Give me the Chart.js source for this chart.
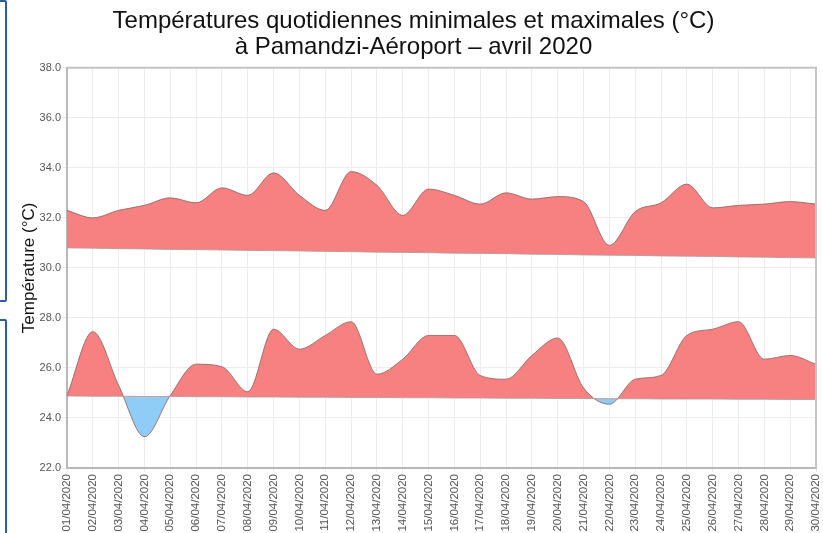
<!DOCTYPE html>
<html lang="fr">
<head>
<meta charset="utf-8">
<script src="https://cdn.jsdelivr.net/npm/chart.js@4/dist/chart.umd.min.js"></script>
<style>
    html, body { margin: 0; padding: 0; background: #fff; }
    #wrap { position: relative; width: 823px; height: 533px; overflow: hidden; }
    #chart { position: absolute; left: 0; top: 0; }
    .cadre { position: absolute; border: 2px solid #2d5e9e; border-radius: 2px; }
</style>
</head>
<body>
<div id="wrap">
    <div class="cadre" style="left:-12px; top:0px; width:15px; height:298px;"></div>
    <div class="cadre" style="left:-12px; top:319px; width:15px; height:240px;"></div>
    <canvas id="chart" width="823" height="533"></canvas>
</div>
<script>
// ========== Données ==========

const jours = [
    '01/04/2020', '02/04/2020', '03/04/2020', '04/04/2020', '05/04/2020',
    '06/04/2020', '07/04/2020', '08/04/2020', '09/04/2020', '10/04/2020',
    '11/04/2020', '12/04/2020', '13/04/2020', '14/04/2020', '15/04/2020',
    '16/04/2020', '17/04/2020', '18/04/2020', '19/04/2020', '20/04/2020',
    '21/04/2020', '22/04/2020', '23/04/2020', '24/04/2020', '25/04/2020',
    '26/04/2020', '27/04/2020', '28/04/2020', '29/04/2020', '30/04/2020'
];

const tempMax = [
    32.3, 32.0, 32.3, 32.5, 32.8, 32.6, 33.2, 32.9, 33.8, 32.9,
    32.3, 33.85, 33.3, 32.1, 33.15, 32.9, 32.55, 33.0, 32.75, 32.85,
    32.65, 30.9, 32.25, 32.6, 33.35, 32.4, 32.5, 32.55, 32.65, 32.55
];

const normaleMax = [
    30.80, 30.79, 30.77, 30.76, 30.74, 30.73, 30.72, 30.70, 30.69, 30.68,
    30.66, 30.65, 30.63, 30.62, 30.61, 30.59, 30.58, 30.57, 30.55, 30.54,
    30.52, 30.51, 30.50, 30.48, 30.47, 30.46, 30.44, 30.43, 30.41, 30.40
];

const tempMin = [
    24.9, 27.45, 25.3, 23.25, 24.9, 26.15, 26.05, 25.05, 27.55, 26.75,
    27.3, 27.85, 25.75, 26.35, 27.3, 27.3, 25.7, 25.55, 26.5, 27.2,
    25.2, 24.55, 25.55, 25.7, 27.3, 27.55, 27.85, 26.35, 26.5, 26.15
];

const normaleMin = [
    24.88, 24.87, 24.87, 24.86, 24.86, 24.85, 24.85, 24.84, 24.84, 24.83,
    24.83, 24.82, 24.82, 24.81, 24.81, 24.80, 24.80, 24.79, 24.79, 24.78,
    24.78, 24.77, 24.77, 24.76, 24.76, 24.76, 24.75, 24.75, 24.74, 24.74
];

const titreLignes = [
    'Températures quotidiennes minimales et maximales (°C)',
    'à Pamandzi-Aéroport – avril 2020'
];

// ========== Styles ==========

const POLICE = 'Liberation Sans, Arial, sans-serif';
const ROUGE = 'rgba(247, 128, 128, 1)';
const BLEU  = 'rgba(143, 204, 246, 1)';
const TRAIT = 'rgba(150, 105, 105, 0.9)';
const TRAIT_NORMALE = 'rgba(190, 150, 150, 0.9)';

// Cadre gris autour de la zone du graphique (haut et droite)
const cadrePlugin = {
    id: 'cadre',
    afterDraw(chart) {
        const { ctx, chartArea: a } = chart;
        ctx.save();
        ctx.strokeStyle = '#c4c4c4';
        ctx.lineWidth = 2;
        ctx.beginPath();
        ctx.moveTo(a.left, a.top);
        ctx.lineTo(a.right, a.top);
        ctx.lineTo(a.right, a.bottom);
        ctx.stroke();
        ctx.restore();
    }
};

function serieNormale(data) {
    return {
        data,
        borderColor: TRAIT_NORMALE,
        borderWidth: 1,
        pointRadius: 0,
        fill: false,
    };
}

function serieTemp(data, cible) {
    return {
        data,
        borderColor: TRAIT,
        borderWidth: 1,
        pointRadius: 0,
        cubicInterpolationMode: 'monotone',
        fill: { target: cible, above: ROUGE, below: BLEU },
    };
}

// ========== Graphique ==========

new Chart(document.getElementById('chart'), {
    type: 'line',
    data: {
        labels: jours,
        datasets: [
            serieNormale(normaleMax),
            serieTemp(tempMax, 0),
            serieNormale(normaleMin),
            serieTemp(tempMin, 2),
        ]
    },
    options: {
        responsive: false,
        animation: false,
        layout: { padding: { left: 4, right: 0, top: 0, bottom: 0 } },
        plugins: {
            legend: { display: false },
            tooltip: { enabled: false },
            title: {
                display: true,
                text: titreLignes,
                color: '#111',
                font: { family: POLICE, size: 24, weight: 'normal', lineHeight: 1.1 },
                padding: { top: 8, bottom: 7 },
            },
        },
        scales: {
            x: {
                offset: false,
                grid: { color: '#ececec', tickLength: 4 },
                border: { color: '#b8b8b8', width: 2 },
                ticks: {
                    autoSkip: false,
                    maxRotation: 90,
                    minRotation: 90,
                    color: '#555',
                    padding: 2,
                    font: { family: POLICE, size: 11.5 },
                },
                afterFit: scale => {
                    scale.height = 65;
                    scale.paddingLeft = 0;
                    scale.paddingRight = 7;
                },
            },
            y: {
                min: 22,
                max: 38,
                grid: { color: '#ececec', tickLength: 5 },
                border: { color: '#b8b8b8', width: 2 },
                ticks: {
                    stepSize: 2,
                    color: '#555',
                    padding: 1,
                    font: { family: POLICE, size: 11 },
                    callback: v => v.toFixed(1),
                },
                title: {
                    display: true,
                    text: 'Température (°C)',
                    color: '#111',
                    font: { family: POLICE, size: 17 },
                    padding: { top: 15, bottom: 0 },
                },
                afterFit: scale => { scale.width = 63; },
            }
        }
    },
    plugins: [cadrePlugin]
});
</script>
</body>
</html>
